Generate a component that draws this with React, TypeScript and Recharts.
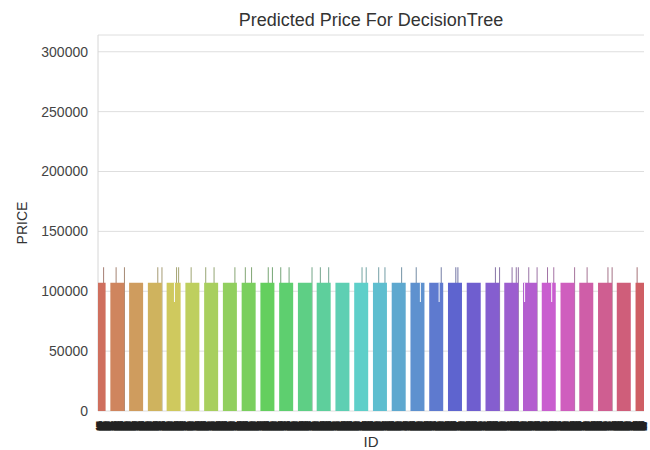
import React from 'react';
import { BarChart, Bar, XAxis, YAxis, CartesianGrid, Cell } from 'recharts';

const FONT = '"Liberation Sans", Arial, Helvetica, sans-serif';
const CHART_W = 650;
const CHART_H = 450;
const M_TOP = 35;
const M_RIGHT = 6;
const Y_AXIS_W = 98;
const X_AXIS_H = 39;
const X_PAD = { left: -8.4, right: -8.3 };

const title = 'Predicted Price For DecisionTree';
const xLabel = 'ID';
const yLabel = 'PRICE';
const yTicks = [0, 50000, 100000, 150000, 200000, 250000, 300000];
const yMax = 314000;

// ID categories (x axis)
const firstId = 1461;
const idCount = 270;
const groupSize = 9;
const ids: string[] = Array.from({ length: idCount }, (_, i) => String(firstId + i));

// typical predicted price of each run of IDs
const groupPrices = [
  107000, 107000, 107000, 107000, 107000, 107000, 107000, 107000, 107000, 107000,
  107000, 107000, 107000, 107000, 107000, 107000, 107000, 107000, 107000, 107000,
  107000, 107000, 107000, 107000, 107000, 107000, 107000, 107000, 107000, 107000,
];

// IDs predicted higher
const highIds = [
  1467, 1473, 1477, 1493, 1495, 1502, 1503, 1509, 1516, 1520,
  1530, 1535, 1538, 1546, 1548, 1552, 1556, 1567, 1571, 1575,
  1591, 1593, 1599, 1602, 1610, 1617, 1629, 1636, 1637, 1655,
  1657, 1663, 1665, 1666, 1671, 1675, 1680, 1683, 1693, 1699,
  1709, 1711, 1723,
];
const highPrices = [
  120000, 120000, 120000, 120000, 120000, 120000, 120000, 120000, 120000, 120000,
  120000, 120000, 120000, 120000, 120000, 120000, 120000, 120000, 120000, 120000,
  120000, 120000, 120000, 120000, 120000, 120000, 120000, 120000, 120000, 120000,
  120000, 120000, 120000, 120000, 120000, 120000, 120000, 120000, 120000, 120000,
  120000, 120000, 120000,
];

// IDs predicted lower
const lowIds = [1501, 1619, 1628, 1669, 1682];
const lowPrices = [91000, 91000, 91000, 91000, 91000];

const hueAt = (i: number) => ((0.01 + i / idCount) * 360) % 360;

const idRows = ids.map((id, i) => {
  const hi = highIds.indexOf(Number(id));
  const lo = lowIds.indexOf(Number(id));
  const typical = groupPrices[Math.floor(i / groupSize)];
  return {
    id,
    high: hi >= 0 ? highPrices[hi] : null,
    low: lo >= 0 ? [lowPrices[lo], typical] : null,
    hue: hueAt(i),
  };
});

const groupRows = groupPrices.map((price, k) => ({
  group: ids[k * groupSize + 4],
  price,
  hue: hueAt(k * groupSize + 4),
}));

const IdTick = (props: any) => {
  const { x, y, payload } = props;
  if (x < 97 || x > 647) return <g />;
  return (
    <text
      x={x}
      y={y}
      transform={`rotate(-90, ${x}, ${y})`}
      textAnchor="end"
      dominantBaseline="central"
      fontSize={3.6}
      fill="#222"
      stroke="#222"
      strokeWidth={1.8}
    >
      {payload.value}
    </text>
  );
};

const PriceLabel = (props: any) => {
  const vb = props.viewBox || { x: 0, y: M_TOP, width: Y_AXIS_W, height: 376 };
  const cx = vb.x + 22;
  const cy = vb.y + vb.height / 2;
  return (
    <text
      x={cx}
      y={cy}
      transform={`rotate(-90, ${cx}, ${cy})`}
      textAnchor="middle"
      dominantBaseline="central"
      fontSize={14}
      fill="#333"
    >
      {yLabel}
    </text>
  );
};

const layer: React.CSSProperties = { position: 'absolute', left: 0, top: 0 };
// plot-area clip for the bar layers
const clipLayer: React.CSSProperties = {
  position: 'absolute',
  left: Y_AXIS_W,
  top: 0,
  width: CHART_W - Y_AXIS_W - M_RIGHT,
  height: CHART_H,
  overflow: 'hidden',
};
const innerLayer: React.CSSProperties = { position: 'absolute', left: -Y_AXIS_W, top: 0 };

export default function App() {
  return (
    <div
      style={{
        position: 'absolute',
        left: 0,
        top: 0,
        width: CHART_W,
        height: CHART_H,
        background: '#fff',
        fontFamily: FONT,
        overflow: 'hidden',
      }}
    >
      {/* axes, grid, frame, higher predictions */}
      <div style={layer}>
        <BarChart
          width={CHART_W}
          height={CHART_H}
          data={idRows}
          margin={{ top: M_TOP, right: M_RIGHT, left: 0, bottom: 0 }}
          barCategoryGap={0}
        >
          <CartesianGrid vertical={false} stroke="#dedede" />
          <XAxis
            dataKey="id"
            height={X_AXIS_H}
            interval={0}
            tickSize={0}
            tickMargin={11}
            axisLine={false}
            tick={IdTick}
            padding={X_PAD}
            label={{ value: xLabel, position: 'insideBottom', offset: 3, fill: '#333', fontSize: 15 }}
          />
          <XAxis
            xAxisId="top"
            dataKey="id"
            orientation="top"
            height={0}
            tick={false}
            tickLine={false}
            axisLine={{ stroke: '#d6d6d6' }}
          />
          <YAxis
            width={Y_AXIS_W}
            domain={[0, yMax]}
            ticks={yTicks}
            interval={0}
            tickSize={0}
            tickMargin={10}
            axisLine={{ stroke: '#d6d6d6' }}
            tick={{ fill: '#444', fontSize: 14 }}
            label={<PriceLabel />}
          />
          <YAxis
            yAxisId="right"
            orientation="right"
            width={0}
            domain={[0, yMax]}
            tick={false}
            tickLine={false}
            axisLine={{ stroke: '#d6d6d6' }}
          />
          <Bar dataKey="high" barSize={1} isAnimationActive={false}>
            {idRows.map((r) => (
              <Cell key={r.id} fill={`hsl(${r.hue}, 22%, 55%)`} />
            ))}
          </Bar>
        </BarChart>
      </div>

      {/* typical predictions */}
      <div style={clipLayer}>
        <div style={innerLayer}>
          <BarChart
            width={CHART_W}
            height={CHART_H}
            data={groupRows}
            margin={{ top: M_TOP, right: M_RIGHT, left: Y_AXIS_W, bottom: X_AXIS_H }}
          >
            <XAxis dataKey="group" hide padding={X_PAD} />
            <YAxis hide domain={[0, yMax]} />
            <Bar dataKey="price" barSize={14} isAnimationActive={false}>
              {groupRows.map((r) => (
                <Cell key={r.group} fill={`hsl(${r.hue}, 54%, 59%)`} />
              ))}
            </Bar>
          </BarChart>
        </div>
      </div>

      {/* lower predictions */}
      <div style={clipLayer}>
        <div style={innerLayer}>
          <BarChart
            width={CHART_W}
            height={CHART_H}
            data={idRows}
            margin={{ top: M_TOP, right: M_RIGHT, left: Y_AXIS_W, bottom: X_AXIS_H }}
            barCategoryGap={0}
          >
            <XAxis dataKey="id" hide padding={X_PAD} />
            <YAxis hide domain={[0, yMax]} />
            <Bar dataKey="low" barSize={1} fill="#fbfbfb" isAnimationActive={false} />
          </BarChart>
        </div>
      </div>

      <div
        style={{
          position: 'absolute',
          left: Y_AXIS_W,
          width: CHART_W - Y_AXIS_W - M_RIGHT,
          top: 9,
          textAlign: 'center',
          fontSize: 18,
          lineHeight: '22px',
          color: '#333',
        }}
      >
        {title}
      </div>
    </div>
  );
}
